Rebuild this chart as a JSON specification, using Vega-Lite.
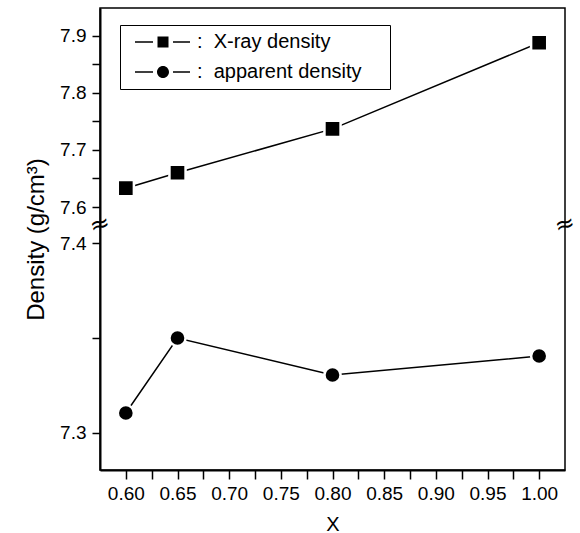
{
  "$schema": "https://vega.github.io/schema/vega-lite/v6.json",
  "width": 465,
  "height": 462,
  "autosize": {"type": "none"},
  "padding": {"left": 100, "top": 8, "right": 15, "bottom": 63},
  "background": "white",
  "config": {
    "view": {"stroke": "black", "strokeWidth": 1.5},
    "axis": {
      "grid": false,
      "domainColor": "black",
      "domainWidth": 2,
      "tickColor": "black",
      "tickWidth": 1.5,
      "labelColor": "black",
      "labelFont": "Liberation Sans",
      "labelFontSize": 19,
      "labelOverlap": false,
      "titleFont": "Liberation Sans",
      "titleColor": "black",
      "titleFontWeight": "normal"
    }
  },
  "data": {
    "values": [
      {"x": 0.60, "density": 7.633, "series": "X-ray density"},
      {"x": 0.65, "density": 7.660, "series": "X-ray density"},
      {"x": 0.80, "density": 7.737, "series": "X-ray density"},
      {"x": 1.00, "density": 7.888, "series": "X-ray density"},
      {"x": 0.60, "density": 7.3105, "series": "apparent density"},
      {"x": 0.65, "density": 7.350, "series": "apparent density"},
      {"x": 0.80, "density": 7.3305, "series": "apparent density"},
      {"x": 1.00, "density": 7.3405, "series": "apparent density"}
    ]
  },
  "resolve": {"axis": {"x": "independent", "y": "independent"}, "scale": {"shape": "independent"}},
  "layer": [
    {
      "mark": {"type": "line", "color": "black", "strokeWidth": 1.5},
      "encoding": {
        "x": {
          "field": "x", "type": "quantitative",
          "scale": {"domain": [0.575, 1.025], "nice": false, "zero": false},
          "axis": {
            "orient": "bottom",
            "values": [0.60, 0.625, 0.65, 0.675, 0.70, 0.725, 0.75, 0.775, 0.80, 0.825, 0.85, 0.875, 0.90, 0.925, 0.95, 0.975, 1.00],
            "tickCount": 100,
            "format": ".2f",
            "labelExpr": "round(datum.value * 200) % 2 == 1 ? '' : datum.label",
            "tickSize": 9,
            "encode": {"ticks": {"update": {"y2": {"signal": "round(datum.value * 200) % 2 == 1 ? 5 : 9"}}}},
            "labelPadding": 5,
            "title": "X",
            "titleFontSize": 20,
            "titleBaseline": "alphabetic",
            "titleY": 60
          }
        },
        "y": {
          "field": "density", "type": "quantitative",
          "scale": {"domain": [7.2805, 7.4, 7.6, 7.949], "range": [462, 235, 199, 0], "nice": false, "zero": false},
          "axis": {
            "orient": "left",
            "values": [7.3, 7.35, 7.4, 7.6, 7.65, 7.7, 7.75, 7.8, 7.85, 7.9],
            "tickCount": 100,
            "format": ".1f",
            "labelExpr": "round(datum.value * 20) % 2 == 1 ? '' : datum.label",
            "tickSize": 8,
            "encode": {"ticks": {"update": {"x2": {"signal": "round(datum.value * 20) % 2 == 1 ? -5 : -8"}}}},
            "labelPadding": 6,
            "title": "Density (g/cm³)",
            "titleFontSize": 24,
            "titleAngle": -90,
            "titleBaseline": "alphabetic",
            "titleAlign": "center",
            "titleX": -57,
            "titleY": 231
          }
        },
        "detail": {"field": "series"}
      }
    },
    {
      "mark": {"type": "point", "filled": true, "fill": "black", "stroke": "white", "strokeWidth": 2.5, "size": 260, "opacity": 1},
      "encoding": {
        "x": {"field": "x", "type": "quantitative", "axis": null},
        "y": {"field": "density", "type": "quantitative", "axis": null},
        "shape": {
          "field": "series", "type": "nominal",
          "scale": {"domain": ["X-ray density", "apparent density"], "range": ["square", "circle"]},
          "legend": null
        }
      }
    },
    {
      "transform": [{"filter": "false"}],
      "mark": {"type": "point", "filled": true, "color": "black", "strokeWidth": 0, "opacity": 1},
      "encoding": {
        "x": {"field": "x", "type": "quantitative", "axis": null},
        "y": {"field": "density", "type": "quantitative", "axis": null},
        "shape": {
          "field": "series", "type": "nominal",
          "scale": {
            "domain": ["X-ray density", "apparent density"],
            "range": [
              "M-0.2,-0.08H1.6V0.08H-0.2ZM3.6,-0.08H5.3V0.08H3.6ZM2.05,-0.55H3.15V0.55H2.05Z",
              "M-0.2,-0.08H1.6V0.08H-0.2ZM3.6,-0.08H5.3V0.08H3.6ZM2,0a0.6,0.6 0 1 0 1.2,0a0.6,0.6 0 1 0 -1.2,0Z"
            ]
          },
          "legend": {
            "orient": "none",
            "legendX": 20,
            "legendY": 17,
            "title": null,
            "strokeColor": "black",
            "padding": 7,
            "symbolSize": 400,
            "symbolFillColor": "black",
            "symbolStrokeWidth": 0,
            "symbolOpacity": 1,
            "labelFont": "Liberation Sans",
            "labelFontSize": 20,
            "labelColor": "black",
            "labelLimit": 500,
            "labelOffset": 50,
            "rowPadding": 10,
            "labelExpr": "':\u00a0\u00a0' + datum.label + '\u00a0\u2800'"
          }
        }
      }
    },
    {
      "data": {"values": [{}]},
      "mark": {"type": "text", "text": "≈", "fontSize": 24, "color": "black", "angle": -15, "baseline": "middle", "align": "center", "font": "DejaVu Sans"},
      "encoding": {
        "x": {"datum": 0.575, "type": "quantitative", "axis": null},
        "y": {"datum": 7.5, "type": "quantitative", "axis": null}
      }
    },
    {
      "data": {"values": [{}]},
      "mark": {"type": "text", "text": "≈", "fontSize": 24, "color": "black", "angle": -15, "baseline": "middle", "align": "center", "font": "DejaVu Sans"},
      "encoding": {
        "x": {"datum": 1.025, "type": "quantitative", "axis": null},
        "y": {"datum": 7.5, "type": "quantitative", "axis": null}
      }
    }
  ]
}
